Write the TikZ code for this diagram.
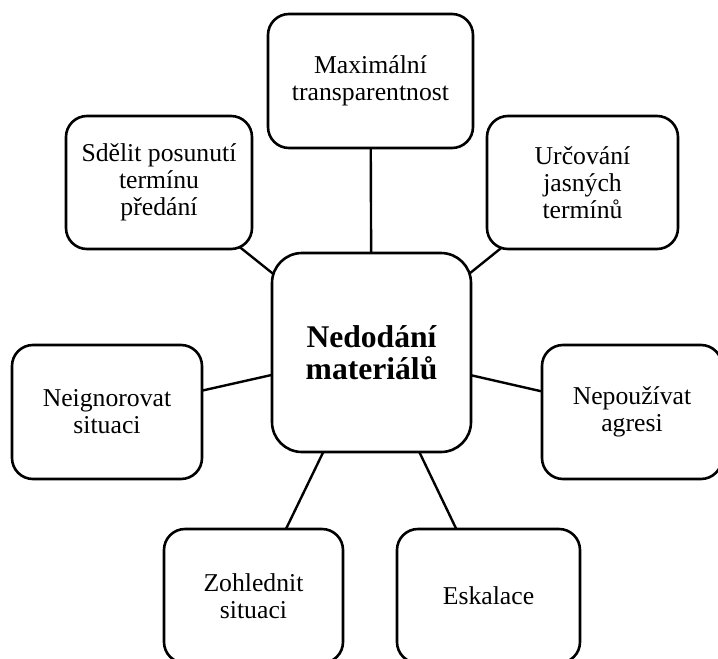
\documentclass[tikz,border=0pt]{standalone}
\usepackage{fontspec}
\setmainfont{Liberation Serif}
\usetikzlibrary{backgrounds}

\begin{document}
\begin{tikzpicture}[x=1pt,y=-1pt,
  box/.style={draw=black, line width=2.6pt, fill=white, rounded corners=21pt,
    inner sep=0pt, align=center, font=\fontsize{25.7}{27}\selectfont},
  hub/.style={box, rounded corners=30pt, font=\fontsize{31.6}{32.4}\selectfont\bfseries},
  link/.style={draw=black, line width=2.4pt}]
  \useasboundingbox (0,0) rectangle (718,659);

  % central topic
  \node[hub, minimum width=199pt, minimum height=199pt] (C) at (371.5,352.5) {Nedodání\\materiálů};

  % surrounding measures
  \node[box, minimum width=205pt, minimum height=134pt] (T)  at (370.5,81)  {Maximální\\transparentnost};
  \node[box, minimum width=186pt, minimum height=133pt] (TL) at (159,182.5) {Sdělit posunutí\\termínu\\předání};
  \node[box, minimum width=191pt, minimum height=133pt] (TR) at (582.5,182.5) {Určování\\jasných\\termínů};
  \node[box, minimum width=190pt, minimum height=134pt] (L)  at (107,412)   {Neignorovat\\situaci};
  \node[box, minimum width=180pt, minimum height=134pt] (R)  at (632,412)   {Nepoužívat\\agresi};
  \node[box, minimum width=179pt, minimum height=134pt] (BL) at (253.5,596) {Zohlednit\\situaci};
  \node[box, minimum width=183pt, minimum height=134pt] (BR) at (488.5,596) {Eskalace};

  % spokes, centre to centre, hidden behind the filled boxes
  \begin{scope}[on background layer]
    \foreach \n in {T,TL,TR,L,R,BL,BR}
      \draw[link] (C.center) -- (\n.center);
  \end{scope}
\end{tikzpicture}
\end{document}
